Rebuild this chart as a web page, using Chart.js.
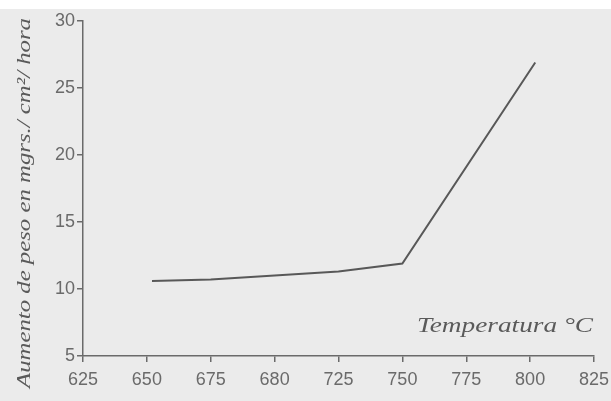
<!DOCTYPE html>
<html>
<head>
<meta charset="utf-8">
<script src="https://cdn.jsdelivr.net/npm/chart.js@4"></script>
<style>
  html, body { margin: 0; padding: 0; background: #ffffff; }
  #wrap { width: 611px; height: 401px; position: relative; }
</style>
</head>
<body>
<div id="wrap"><canvas id="c" width="611" height="401"></canvas></div>
<script>
// Data
const temperature = [652, 675, 700, 725, 750, 802];
const weightGain = [10.6, 10.7, 11.0, 11.3, 11.9, 26.9];
const xTickValues = [625, 650, 675, 700, 725, 750, 775, 800, 825];
const xTickLabels = ["625", "650", "675", "680", "725", "750", "775", "800", "825"];
const yTickValues = [5, 10, 15, 20, 25, 30];
const yTitle = "Aumento de peso en mgrs./ cm²/ hora";
const xTitle = "Temperatura °C";

const axisColor = '#6a6a6a';
const textColor = '#6a6a6a';

const decor = {
  id: 'decor',
  beforeDraw(chart) {
    const ctx = chart.ctx;
    ctx.save();
    ctx.fillStyle = '#ffffff';
    ctx.fillRect(0, 0, chart.width, chart.height);
    ctx.fillStyle = '#ebebeb';
    ctx.fillRect(0, 9, chart.width, chart.height - 9);
    ctx.restore();
  },
  afterDraw(chart) {
    const ctx = chart.ctx;
    const area = chart.chartArea;
    ctx.save();
    ctx.fillStyle = '#5a5a5a';
    // x title inside plot, bottom-right
    ctx.font = 'italic 21px "Liberation Serif"';
    ctx.textBaseline = 'alphabetic';
    ctx.textAlign = 'left';
    const wx = ctx.measureText(xTitle).width;
    const targetX = 176;
    ctx.save();
    ctx.translate(area.right - 1 - targetX, area.bottom - 24);
    ctx.scale(targetX / wx, 1);
    ctx.fillText(xTitle, 0, 0);
    ctx.restore();
    // y title rotated
    ctx.font = 'italic 19px "Liberation Serif"';
    const wy = ctx.measureText(yTitle).width;
    const targetY = 370;
    ctx.save();
    ctx.translate(30, 388);
    ctx.rotate(-Math.PI / 2);
    ctx.scale(targetY / wy, 1);
    ctx.fillText(yTitle, 0, 0);
    ctx.restore();
    ctx.restore();
  }
};

new Chart(document.getElementById('c'), {
  type: 'line',
  data: {
    datasets: [{
      data: temperature.map((t, i) => ({ x: t, y: weightGain[i] })),
      borderColor: '#585858',
      borderWidth: 2,
      pointRadius: 0,
      tension: 0,
      fill: false
    }]
  },
  options: {
    responsive: false,
    animation: false,
    devicePixelRatio: 1,
    layout: { padding: { top: 21, right: 17, left: 0, bottom: 0 } },
    plugins: { legend: { display: false }, tooltip: { enabled: false } },
    scales: {
      x: {
        type: 'linear',
        min: 625, max: 825,
        afterBuildTicks(scale) { scale.ticks = xTickValues.map(v => ({ value: v })); },
        afterFit(scale) { scale.height = 45; scale.paddingLeft = 0; scale.paddingRight = 0; },
        ticks: {
          color: textColor,
          font: { family: '"Liberation Sans"', size: 18 },
          padding: 7,
          maxRotation: 0,
          autoSkip: false,
          callback: (v) => xTickLabels[xTickValues.indexOf(v)]
        },
        grid: { drawOnChartArea: false, drawTicks: true, tickLength: 6, color: axisColor, lineWidth: 1.5 },
        border: { display: true, color: axisColor, width: 1.5 }
      },
      y: {
        type: 'linear',
        min: 5, max: 30,
        afterBuildTicks(scale) { scale.ticks = yTickValues.map(v => ({ value: v })); },
        afterFit(scale) { scale.width = 83; scale.paddingTop = 0; scale.paddingBottom = 0; },
        ticks: {
          color: textColor,
          font: { family: '"Liberation Sans"', size: 18 },
          padding: 2
        },
        grid: { drawOnChartArea: false, drawTicks: true, tickLength: 6, color: axisColor, lineWidth: 1.5 },
        border: { display: true, color: axisColor, width: 1.5 }
      }
    }
  },
  plugins: [decor]
});
</script>
</body>
</html>
